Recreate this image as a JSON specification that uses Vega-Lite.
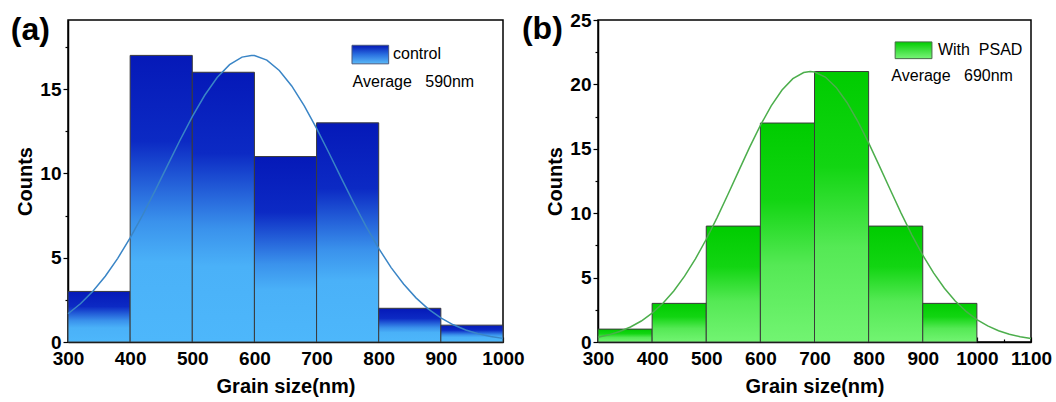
{
  "$schema": "https://vega.github.io/schema/vega-lite/v6.json",
  "padding": {"left": 10, "top": 10, "right": 20, "bottom": 8},
  "spacing": -4,
  "config": {
    "view": {"stroke": "black", "strokeWidth": 1.5},
    "font": "Liberation Sans",
    "axis": {
      "labelFont": "Liberation Sans", "labelFontSize": 19, "labelFontWeight": "bold", "labelColor": "black",
      "titleFont": "Liberation Sans", "titleFontSize": 20, "titleFontWeight": "bold", "titleColor": "black",
      "domainColor": "black", "domainWidth": 1.5, "tickColor": "black", "tickWidth": 1.2,
      "grid": false, "zindex": 1, "labelFlush": false, "labelOverlap": false, "format": "d"
    }
  },
  "hconcat": [
    {
      "width": 435, "height": 322,
      "resolve": {"axis": {"x": "independent", "y": "independent"}},
      "layer": [
        {
          "data": {"values": [
            {"lo": 300, "hi": 400, "count": 3},
            {"lo": 400, "hi": 500, "count": 17},
            {"lo": 500, "hi": 600, "count": 16},
            {"lo": 600, "hi": 700, "count": 11},
            {"lo": 700, "hi": 800, "count": 13},
            {"lo": 800, "hi": 900, "count": 2},
            {"lo": 900, "hi": 1000, "count": 1}
          ]},
          "mark": {"type": "rect", "stroke": "#3a3a3a", "strokeWidth": 1,
            "fill": {"gradient": "linear", "x1": 0, "y1": 0, "x2": 0, "y2": 1, "stops": [
              {"offset": 0, "color": "#0519b8"}, {"offset": 0.3, "color": "#0c2ac4"},
              {"offset": 0.58, "color": "#3a92ec"}, {"offset": 0.72, "color": "#4ab1f8"}, {"offset": 1, "color": "#4db7fb"}]}},
          "encoding": {
            "x": {"field": "lo", "type": "quantitative", "scale": {"domain": [300, 1000], "nice": false, "zero": false},
              "axis": {"values": [300, 400, 500, 600, 700, 800, 900, 1000], "tickSize": -5, "labelPadding": 12, "title": "Grain size(nm)", "titlePadding": 8}},
            "x2": {"field": "hi"},
            "y": {"field": "count", "type": "quantitative", "scale": {"domain": [0, 19.1], "nice": false},
              "axis": {"values": [0, 5, 10, 15], "tickSize": 5, "labelPadding": 2, "title": "Counts", "titlePadding": 4}},
            "y2": {"datum": 0}
          }
        },
        {
          "data": {"values": [
            {"size": 300, "fit": 1.674}, {"size": 320, "fit": 2.268}, {"size": 340, "fit": 3.008}, {"size": 360, "fit": 3.903},
            {"size": 380, "fit": 4.962}, {"size": 400, "fit": 6.173}, {"size": 420, "fit": 7.519}, {"size": 440, "fit": 8.964},
            {"size": 460, "fit": 10.462}, {"size": 480, "fit": 11.953}, {"size": 500, "fit": 13.367}, {"size": 520, "fit": 14.635},
            {"size": 540, "fit": 15.684}, {"size": 560, "fit": 16.454}, {"size": 580, "fit": 16.898}, {"size": 595, "fit": 17.0},
            {"size": 600, "fit": 16.989}, {"size": 620, "fit": 16.719}, {"size": 640, "fit": 16.107}, {"size": 660, "fit": 15.19},
            {"size": 680, "fit": 14.023}, {"size": 700, "fit": 12.674}, {"size": 720, "fit": 11.211}, {"size": 740, "fit": 9.709},
            {"size": 760, "fit": 8.231}, {"size": 780, "fit": 6.831}, {"size": 800, "fit": 5.551}, {"size": 820, "fit": 4.413},
            {"size": 840, "fit": 3.436}, {"size": 860, "fit": 2.618}, {"size": 880, "fit": 1.953}, {"size": 900, "fit": 1.426},
            {"size": 920, "fit": 1.02}, {"size": 940, "fit": 0.714}, {"size": 960, "fit": 0.489}, {"size": 980, "fit": 0.328},
            {"size": 1000, "fit": 0.215}
          ]},
          "mark": {"type": "line", "color": "#3a85c6", "strokeWidth": 1.5},
          "encoding": {
            "x": {"field": "size", "type": "quantitative", "scale": {"domain": [300, 1000], "nice": false, "zero": false}, "axis": null},
            "y": {"field": "fit", "type": "quantitative", "scale": {"domain": [0, 19.1], "nice": false}, "axis": null}
          }
        },
        {
          "data": {"values": [{}]},
          "mark": {"type": "rect", "stroke": "#4a5a80", "strokeWidth": 1,
            "fill": {"gradient": "linear", "x1": 0, "y1": 0, "x2": 0, "y2": 1, "stops": [
              {"offset": 0, "color": "#0417b5"}, {"offset": 0.5, "color": "#2a6fe0"}, {"offset": 1, "color": "#5abaf8"}]}},
          "encoding": {
            "x": {"datum": 757, "type": "quantitative", "scale": {"domain": [300, 1000], "nice": false, "zero": false}, "axis": null},
            "x2": {"datum": 816},
            "y": {"datum": 17.6, "type": "quantitative", "scale": {"domain": [0, 19.1], "nice": false}, "axis": null},
            "y2": {"datum": 16.5}
          }
        },
        {
          "data": {"values": [{}]},
          "mark": {"type": "text", "align": "left", "baseline": "middle", "fontSize": 16, "font": "Liberation Sans", "color": "black"},
          "encoding": {
            "x": {"datum": 823, "type": "quantitative", "scale": {"domain": [300, 1000], "nice": false, "zero": false}, "axis": null},
            "y": {"datum": 17.1, "type": "quantitative", "scale": {"domain": [0, 19.1], "nice": false}, "axis": null},
            "text": {"value": "control"}
          }
        },
        {
          "data": {"values": [{}]},
          "mark": {"type": "text", "align": "left", "baseline": "middle", "fontSize": 16, "font": "Liberation Sans", "color": "black"},
          "encoding": {
            "x": {"datum": 758, "type": "quantitative", "scale": {"domain": [300, 1000], "nice": false, "zero": false}, "axis": null},
            "y": {"datum": 15.45, "type": "quantitative", "scale": {"domain": [0, 19.1], "nice": false}, "axis": null},
            "text": {"value": "Average\u00a0\u00a0\u00a0590nm"}
          }
        },
        {
          "data": {"values": [{}]},
          "mark": {"type": "text", "align": "left", "baseline": "middle", "fontSize": 32, "fontWeight": "bold", "font": "Liberation Sans", "color": "black"},
          "encoding": {
            "x": {"datum": 208, "type": "quantitative", "scale": {"domain": [300, 1000], "nice": false, "zero": false}, "axis": null},
            "y": {"datum": 18.5, "type": "quantitative", "scale": {"domain": [0, 19.1], "nice": false}, "axis": null},
            "text": {"value": "(a)"}
          }
        },
        {
          "data": {"values": [{}]},
          "mark": {"type": "point", "opacity": 0},
          "encoding": {
            "x": {"datum": 300, "type": "quantitative", "scale": {"domain": [300, 1000], "nice": false, "zero": false},
              "axis": {"orient": "bottom", "values": [350, 450, 550, 650, 750, 850, 950], "tickSize": -3, "labels": false, "domain": false, "title": null}},
            "y": {"datum": 0, "type": "quantitative", "scale": {"domain": [0, 19.1], "nice": false},
              "axis": {"orient": "left", "values": [2.5, 7.5, 12.5, 17.5], "tickSize": 3, "labels": false, "domain": false, "title": null}}
          }
        }
      ]
    },
    {
      "width": 433, "height": 322,
      "resolve": {"axis": {"x": "independent", "y": "independent"}},
      "layer": [
        {
          "data": {"values": [
            {"lo": 300, "hi": 400, "count": 1},
            {"lo": 400, "hi": 500, "count": 3},
            {"lo": 500, "hi": 600, "count": 9},
            {"lo": 600, "hi": 700, "count": 17},
            {"lo": 700, "hi": 800, "count": 21},
            {"lo": 800, "hi": 900, "count": 9},
            {"lo": 900, "hi": 1000, "count": 3}
          ]},
          "mark": {"type": "rect", "stroke": "#3a3a3a", "strokeWidth": 1,
            "fill": {"gradient": "linear", "x1": 0, "y1": 0, "x2": 0, "y2": 1, "stops": [
              {"offset": 0, "color": "#00cc00"}, {"offset": 0.35, "color": "#12d512"},
              {"offset": 0.65, "color": "#55e955"}, {"offset": 1, "color": "#72f472"}]}},
          "encoding": {
            "x": {"field": "lo", "type": "quantitative", "scale": {"domain": [300, 1100], "nice": false, "zero": false},
              "axis": {"values": [300, 400, 500, 600, 700, 800, 900, 1000, 1100], "tickSize": -5, "labelPadding": 12, "title": "Grain size(nm)", "titlePadding": 8}},
            "x2": {"field": "hi"},
            "y": {"field": "count", "type": "quantitative", "scale": {"domain": [0, 25], "nice": false},
              "axis": {"values": [0, 5, 10, 15, 20, 25], "tickSize": 5, "labelPadding": 2, "title": "Counts", "titlePadding": 4}},
            "y2": {"datum": 0}
          }
        },
        {
          "data": {"values": [
            {"size": 300, "fit": 0.372}, {"size": 320, "fit": 0.555}, {"size": 340, "fit": 0.812}, {"size": 360, "fit": 1.163},
            {"size": 380, "fit": 1.63}, {"size": 400, "fit": 2.238}, {"size": 420, "fit": 3.01}, {"size": 440, "fit": 3.964},
            {"size": 460, "fit": 5.111}, {"size": 480, "fit": 6.453}, {"size": 500, "fit": 7.977}, {"size": 520, "fit": 9.658},
            {"size": 540, "fit": 11.449}, {"size": 560, "fit": 13.29}, {"size": 580, "fit": 15.107}, {"size": 600, "fit": 16.815},
            {"size": 620, "fit": 18.328}, {"size": 640, "fit": 19.561}, {"size": 660, "fit": 20.443}, {"size": 680, "fit": 20.921},
            {"size": 692, "fit": 21.0}, {"size": 700, "fit": 20.965}, {"size": 720, "fit": 20.572}, {"size": 740, "fit": 19.767},
            {"size": 760, "fit": 18.599}, {"size": 780, "fit": 17.136}, {"size": 800, "fit": 15.46}, {"size": 820, "fit": 13.658},
            {"size": 840, "fit": 11.816}, {"size": 860, "fit": 10.009}, {"size": 880, "fit": 8.302}, {"size": 900, "fit": 6.744},
            {"size": 920, "fit": 5.364}, {"size": 940, "fit": 4.178}, {"size": 960, "fit": 3.186}, {"size": 980, "fit": 2.379},
            {"size": 1000, "fit": 1.74}, {"size": 1020, "fit": 1.246}, {"size": 1040, "fit": 0.874}, {"size": 1060, "fit": 0.6},
            {"size": 1080, "fit": 0.403}, {"size": 1100, "fit": 0.265}
          ]},
          "mark": {"type": "line", "color": "#4cae4c", "strokeWidth": 1.5},
          "encoding": {
            "x": {"field": "size", "type": "quantitative", "scale": {"domain": [300, 1100], "nice": false, "zero": false}, "axis": null},
            "y": {"field": "fit", "type": "quantitative", "scale": {"domain": [0, 25], "nice": false}, "axis": null}
          }
        },
        {
          "data": {"values": [{}]},
          "mark": {"type": "rect", "stroke": "#4a6a4a", "strokeWidth": 1,
            "fill": {"gradient": "linear", "x1": 0, "y1": 0, "x2": 0, "y2": 1, "stops": [
              {"offset": 0, "color": "#00cc00"}, {"offset": 0.5, "color": "#40e040"}, {"offset": 1, "color": "#78f478"}]}},
          "encoding": {
            "x": {"datum": 849, "type": "quantitative", "scale": {"domain": [300, 1100], "nice": false, "zero": false}, "axis": null},
            "x2": {"datum": 917},
            "y": {"datum": 23.3, "type": "quantitative", "scale": {"domain": [0, 25], "nice": false}, "axis": null},
            "y2": {"datum": 22.0}
          }
        },
        {
          "data": {"values": [{}]},
          "mark": {"type": "text", "align": "left", "baseline": "middle", "fontSize": 16, "font": "Liberation Sans", "color": "black"},
          "encoding": {
            "x": {"datum": 928, "type": "quantitative", "scale": {"domain": [300, 1100], "nice": false, "zero": false}, "axis": null},
            "y": {"datum": 22.65, "type": "quantitative", "scale": {"domain": [0, 25], "nice": false}, "axis": null},
            "text": {"value": "With\u00a0\u00a0PSAD"}
          }
        },
        {
          "data": {"values": [{}]},
          "mark": {"type": "text", "align": "left", "baseline": "middle", "fontSize": 16, "font": "Liberation Sans", "color": "black"},
          "encoding": {
            "x": {"datum": 842, "type": "quantitative", "scale": {"domain": [300, 1100], "nice": false, "zero": false}, "axis": null},
            "y": {"datum": 20.65, "type": "quantitative", "scale": {"domain": [0, 25], "nice": false}, "axis": null},
            "text": {"value": "Average\u00a0\u00a0\u00a0690nm"}
          }
        },
        {
          "data": {"values": [{}]},
          "mark": {"type": "text", "align": "left", "baseline": "middle", "fontSize": 32, "fontWeight": "bold", "font": "Liberation Sans", "color": "black"},
          "encoding": {
            "x": {"datum": 159.5, "type": "quantitative", "scale": {"domain": [300, 1100], "nice": false, "zero": false}, "axis": null},
            "y": {"datum": 24.3, "type": "quantitative", "scale": {"domain": [0, 25], "nice": false}, "axis": null},
            "text": {"value": "(b)"}
          }
        },
        {
          "data": {"values": [{}]},
          "mark": {"type": "point", "opacity": 0},
          "encoding": {
            "x": {"datum": 300, "type": "quantitative", "scale": {"domain": [300, 1100], "nice": false, "zero": false},
              "axis": {"orient": "bottom", "values": [350, 450, 550, 650, 750, 850, 950, 1050], "tickSize": -3, "labels": false, "domain": false, "title": null}},
            "y": {"datum": 0, "type": "quantitative", "scale": {"domain": [0, 25], "nice": false},
              "axis": {"orient": "left", "values": [2.5, 7.5, 12.5, 17.5, 22.5], "tickSize": 3, "labels": false, "domain": false, "title": null}}
          }
        }
      ]
    }
  ]
}
